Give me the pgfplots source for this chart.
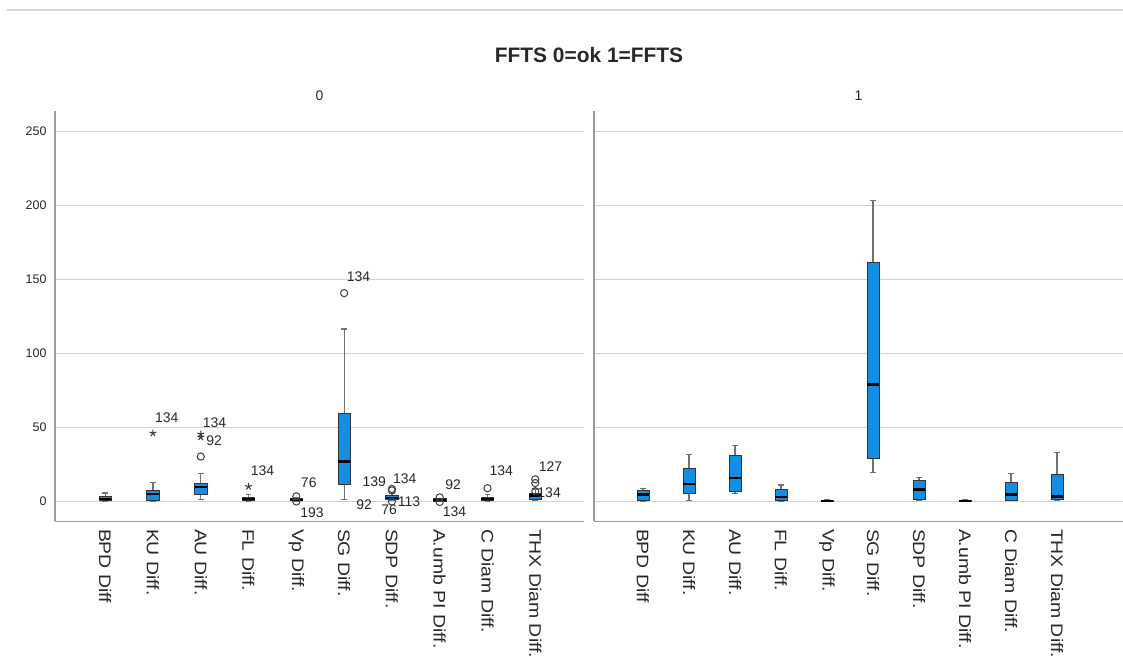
\documentclass[border=0pt]{standalone}
\usepackage{fontspec}
\setmainfont{Liberation Sans}
\usepackage{graphicx}
\usepackage{pgfplots}
\pgfplotsset{compat=1.18}
\usepgfplotslibrary{statistics}
\definecolor{boxblue}{RGB}{20,141,228}
\definecolor{txt}{RGB}{40,40,40}
\newcommand\cl[1]{\scalebox{1}[0.86]{#1}}
\tikzset{lab/.style={font=\fontsize{14}{14}\selectfont, text=txt, inner sep=0pt}}
\pgfplotsset{
  panel/.style={
    scale only axis, width=529bp, height=410bp,
    anchor=south west,
    ymin=-13.5, ymax=263.5,
    axis lines*=left,
    axis line style={draw=black!38, line width=1.5bp},
    ytick={0,50,100,150,200,250},
    xtick={1,2,3,4,5,6,7,8,9,10},
    xticklabels={\cl{BPD Diff}, \cl{KU Diff.}, \cl{AU Diff.}, \cl{FL Diff.}, \cl{Vp Diff.}, \cl{SG Diff.}, \cl{SDP Diff.}, \cl{A.umb PI Diff.}, \cl{C Diam Diff.}, \cl{THX Diam Diff.}},
    major tick length=0pt,
    ymajorgrids, grid style={draw=black!18, line width=1.4bp},
    xticklabel style={rotate=-90, anchor=west, text=txt, font=\fontsize{19.5}{19.5}\selectfont},
    xticklabel shift=4bp,
    yticklabel style={text=txt, font=\fontsize{12.5}{12.5}\selectfont, xshift=-5bp},
    /pgf/number format/assume math mode=true,
    title style={at={(0.5,1)}, anchor=center, yshift=9.5bp, text=txt, font=\fontsize{14}{14}\selectfont},
    clip=false,
  },
  mybox/.style={
    boxplot/draw direction=y, boxplot/box extend=0.26, boxplot/whisker extend=0.12,
    draw=black!80, fill=boxblue, line width=0.8bp, solid,
    boxplot/every median/.style={draw=black, line width=2.4bp},
    boxplot/every whisker/.style={draw=black!55, fill=none, line width=1.2bp},
  },
  circ/.style={only marks, mark=o, mark size=3.6bp, draw=black!75, line width=1bp, mark options={solid, fill=none}},
  starm/.style={only marks, mark=star, mark size=3.6bp, draw=black!80, line width=1bp, mark options={solid}},
}
\begin{document}
\begin{tikzpicture}[x=1bp,y=1bp]
\useasboundingbox[fill=white] (0,0) rectangle (1123,666);
\draw[black!15, line width=1.2bp] (7,656) -- (1123,656);
\node[font=\bfseries\fontsize{21}{21}\selectfont, text=txt] at (589,611) {FFTS 0=ok 1=FFTS};

% ---------------- panel 0 ----------------
\begin{axis}[panel, at={(55bp,144.5bp)}, xmin=-0.05, xmax=11.02, title={0}]
\addplot[mybox, boxplot prepared={draw position=1, lower whisker=0, lower quartile=0.5, median=1.5, upper quartile=3.4, upper whisker=5.7}] coordinates {};
\addplot[mybox, boxplot prepared={draw position=2, lower whisker=0, lower quartile=0.7, median=5.2, upper quartile=7.2, upper whisker=12.8}] coordinates {};
\addplot[mybox, boxplot prepared={draw position=3, lower whisker=1.6, lower quartile=5, median=9.7, upper quartile=12, upper whisker=18.7}] coordinates {};
\addplot[mybox, boxplot prepared={draw position=4, lower whisker=0, lower quartile=0.5, median=1.5, upper quartile=2.5, upper whisker=4.5}] coordinates {};
\addplot[mybox, boxplot prepared={draw position=5, lower whisker=0, lower quartile=0.5, median=1, upper quartile=1.8, upper whisker=2.5}] coordinates {};
\addplot[mybox, boxplot prepared={draw position=6, lower whisker=1.6, lower quartile=11.7, median=27, upper quartile=59.7, upper whisker=116.5}] coordinates {};
\addplot[mybox, boxplot prepared={draw position=7, lower whisker=0.5, lower quartile=1.5, median=2.5, upper quartile=4, upper whisker=5.5}] coordinates {};
\addplot[mybox, boxplot prepared={draw position=8, lower whisker=0, lower quartile=0.3, median=1, upper quartile=1.8, upper whisker=2.3}] coordinates {};
\addplot[mybox, boxplot prepared={draw position=9, lower whisker=0, lower quartile=0.8, median=1.8, upper quartile=3, upper whisker=4.5}] coordinates {};
\addplot[mybox, boxplot prepared={draw position=10, lower whisker=0.5, lower quartile=1.6, median=4, upper quartile=5.8, upper whisker=8.5}] coordinates {};
% outliers (circles) and extremes (stars)
\addplot[circ] coordinates {(3,30.4) (6,140.8) (5,3.5) (5,0) (7,7.5) (7,8.5) (7,0) (8,2.8) (8,-0.3) (9,9) (10,12.5) (10,15) (10,7)};
\addplot[starm] coordinates {(2,46.2) (3,43.5) (3,45.5) (4,10.1)};
% case labels
\node[lab] at (axis cs:2.29,56.4) {134};
\node[lab] at (axis cs:3.29,53.0) {134};
\node[lab] at (axis cs:3.28,40.9) {92};
\node[lab] at (axis cs:4.29,20.6) {134};
\node[lab] at (axis cs:5.26,12.5) {76};
\node[lab] at (axis cs:5.33,-7.8) {193};
\node[lab] at (axis cs:6.30,151.7) {134};
\node[lab] at (axis cs:6.63,13.2) {139};
\node[lab] at (axis cs:7.27,15.2) {134};
\node[lab] at (axis cs:6.42,-2.4) {92};
\node[lab] at (axis cs:6.94,-5.7) {76};
\node[lab] at (axis cs:7.36,-0.3) {113};
\node[lab] at (axis cs:8.28,11.1) {92};
\node[lab] at (axis cs:8.31,-7.1) {134};
\node[lab] at (axis cs:9.29,20.6) {134};
\node[lab] at (axis cs:10.32,23.3) {127};
\node[lab] at (axis cs:10.29,5.7) {134};
\end{axis}

% ---------------- panel 1 ----------------
\begin{axis}[panel, at={(594bp,144.5bp)}, xmin=-0.065, xmax=11.435, yticklabels={}, title={1}]
\addplot[mybox, boxplot prepared={draw position=1, lower whisker=0, lower quartile=0.7, median=4.7, upper quartile=7.4, upper whisker=9}] coordinates {};
\addplot[mybox, boxplot prepared={draw position=2, lower whisker=0.7, lower quartile=5.2, median=11.9, upper quartile=22.4, upper whisker=31.6}] coordinates {};
\addplot[mybox, boxplot prepared={draw position=3, lower whisker=5.5, lower quartile=6.5, median=15.9, upper quartile=30.9, upper whisker=37.7}] coordinates {};
\addplot[mybox, boxplot prepared={draw position=4, lower whisker=0, lower quartile=0.7, median=2.9, upper quartile=8, upper whisker=11.2}] coordinates {};
\addplot[mybox, boxplot prepared={draw position=5, lower whisker=0, lower quartile=0.2, median=0.5, upper quartile=0.9, upper whisker=1.2}] coordinates {};
\addplot[mybox, boxplot prepared={draw position=6, lower whisker=19.7, lower quartile=29.4, median=79.1, upper quartile=161.4, upper whisker=203.5}] coordinates {};
\addplot[mybox, boxplot prepared={draw position=7, lower whisker=0.5, lower quartile=1.1, median=8, upper quartile=14.6, upper whisker=16.4}] coordinates {};
\addplot[mybox, boxplot prepared={draw position=8, lower whisker=0, lower quartile=0.2, median=0.5, upper quartile=0.9, upper whisker=1.2}] coordinates {};
\addplot[mybox, boxplot prepared={draw position=9, lower whisker=0.5, lower quartile=0.7, median=4.7, upper quartile=13, upper whisker=19}] coordinates {};
\addplot[mybox, boxplot prepared={draw position=10, lower whisker=1, lower quartile=1.3, median=3.4, upper quartile=18.6, upper whisker=33}] coordinates {};
\end{axis}
\end{tikzpicture}
\end{document}
